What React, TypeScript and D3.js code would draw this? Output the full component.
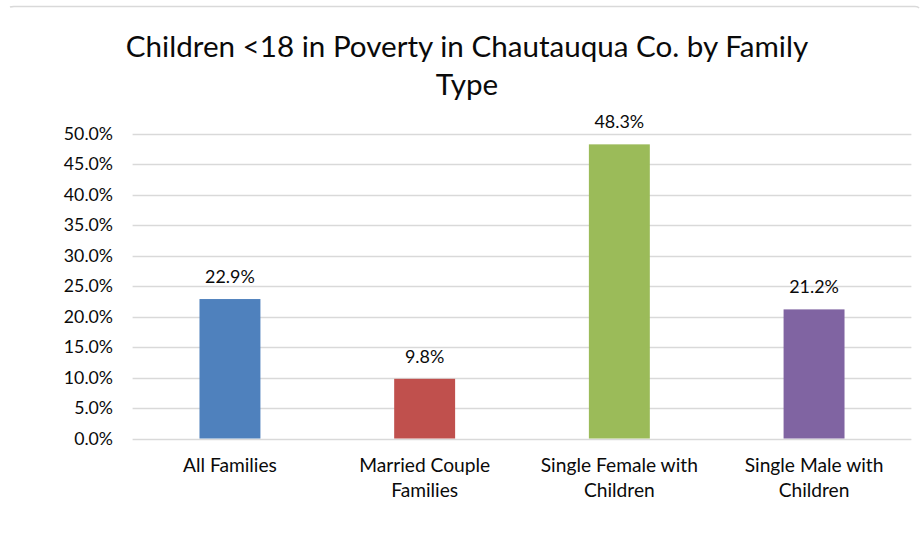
import React from "react";
import * as d3 from "d3";

const categories: string[][] = [
  ["All Families"],
  ["Married Couple", "Families"],
  ["Single Female with", "Children"],
  ["Single Male with", "Children"],
];
const values: number[] = [22.9, 9.8, 48.3, 21.2];
const colors: string[] = ["#4F81BD", "#C0504D", "#9BBB59", "#8064A2"];
const yTicks: number[] = [0, 5, 10, 15, 20, 25, 30, 35, 40, 45, 50];
const titleLines: string[] = ["Children <18 in Poverty in Chautauqua Co. by Family", "Type"];

const W = 923;
const H = 534;
const FONT = "Lato, 'Open Sans', sans-serif";

export default function App() {
  const x = d3
    .scaleBand<number>()
    .domain(d3.range(values.length))
    .range([132.6, 911.4])
    .paddingInner(0.687)
    .paddingOuter(0.687 / 2);
  const y = d3.scaleLinear().domain([0, 50]).range([438.5, 134]);
  const fmt = (v: number) => v.toFixed(1) + "%";

  return (
    <svg
      width={W}
      height={H}
      style={{ position: "absolute", left: 0, top: 0, background: "#fff" }}
      fontFamily={FONT}
    >
      <path d={`M10,7 Q11,6.5 14,6.5 L915,6.5 Q918,6.5 919,8`} fill="none" stroke="#d9d9d9" strokeWidth={1.5} />
      <g>
        {titleLines.map((t, i) => (
          <text key={i} x={467} y={57 + i * 38} textAnchor="middle" fontSize={29.6} fill="#0a0a0a">
            {t}
          </text>
        ))}
      </g>
      <g>
        {yTicks.map((t) => (
          <g key={t}>
            <line x1={132.6} x2={911.4} y1={Math.round(y(t)) + 0.5} y2={Math.round(y(t)) + 0.5} stroke="#d9d9d9" strokeWidth={1.3} />
            <text x={113} y={y(t) + 6} textAnchor="end" fontSize={17.7} fill="#0a0a0a">
              {fmt(t)}
            </text>
          </g>
        ))}
      </g>
      <g>
        {values.map((v, i) => (
          <g key={i}>
            <rect x={x(i)} y={y(v)} width={x.bandwidth()} height={y(0) - y(v)} fill={colors[i]} />
            <text x={(x(i) as number) + x.bandwidth() / 2} y={y(v) - 16} textAnchor="middle" fontSize={17.9} fill="#0a0a0a">
              {fmt(v)}
            </text>
            {categories[i].map((line, j) => (
              <text
                key={j}
                x={(x(i) as number) + x.bandwidth() / 2}
                y={472 + j * 25}
                textAnchor="middle"
                fontSize={19.2}
                fill="#0a0a0a"
              >
                {line}
              </text>
            ))}
          </g>
        ))}
      </g>
    </svg>
  );
}
